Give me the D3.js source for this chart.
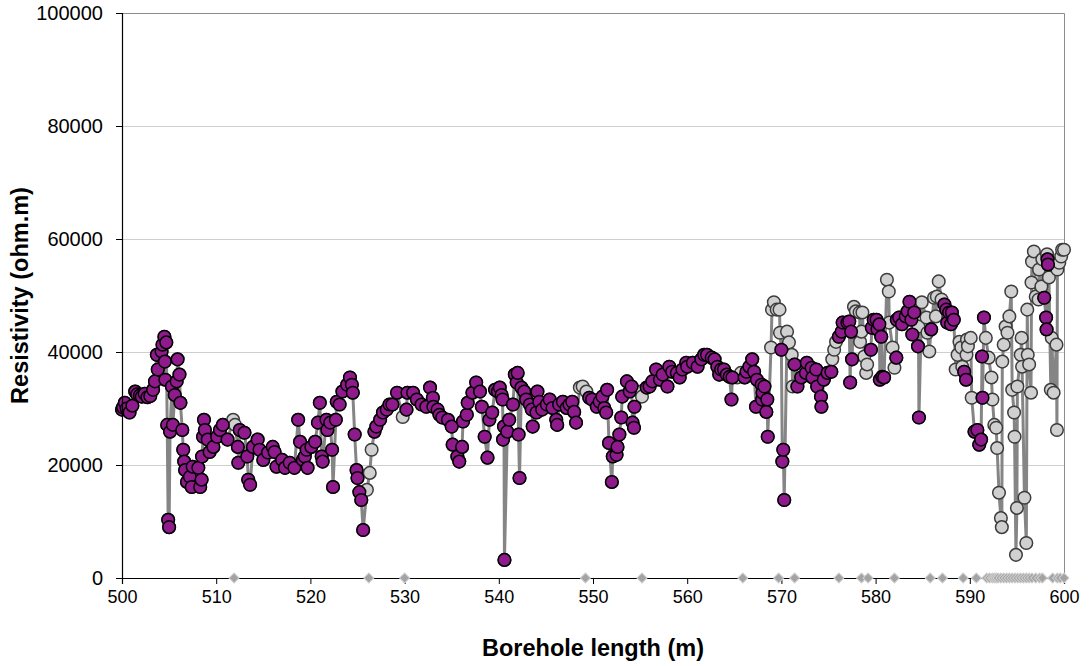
<!DOCTYPE html>
<html>
<head>
<meta charset="utf-8">
<script src="https://cdn.jsdelivr.net/npm/d3@7"></script>
<style>
  body { margin: 0; background: #fff; }
  text { font-family: "Liberation Sans", Arial, sans-serif; }
</style>
</head>
<body>
<svg id="chart" width="1089" height="666"></svg>
<script>
// Resistivity log along the borehole: [borehole length (m), resistivity (ohm.m)]
// Readings kept after quality screening
const accepted = [
  [500.0,29800],[500.1,30200],[500.3,31000],[500.5,30000],[500.8,29300],[501.1,30500],[501.4,33000],[501.6,32500],
  [501.9,32300],[502.1,32100],[502.4,32600],[502.7,32000],[503.0,32200],[503.3,33300],[503.5,34800],[503.7,39500],
  [503.8,36900],[504.2,40100],[504.3,41300],[504.5,42700],[504.55,38300],[504.6,35100],[504.7,41700],[504.8,27100],
  [504.9,10300],[505.0,9000],[505.1,25900],[505.3,33900],[505.4,27100],[505.6,32400],[505.8,34800],[505.9,38700],
  [506.1,36000],[506.2,31000],[506.4,26200],[506.5,22700],[506.6,20600],[506.7,19100],[506.9,17000],[507.2,17900],
  [507.4,16100],[507.5,19700],[508.1,19500],[508.3,16100],[508.45,17400],[508.5,21500],[508.6,25000],[508.7,28000],
  [508.8,26200],[509.1,24500],[509.3,22300],[509.7,23200],[510.1,25000],[510.4,26200],[510.7,27100],[511.2,24500],
  [512.3,23200],[512.35,20400],[512.5,26200],[513.0,25700],[513.3,21500],[513.4,17400],[513.6,16500],[513.9,23200],
  [514.4,24500],[514.6,22700],[515.0,20900],[515.5,22200],[516.0,23200],[516.2,22300],[516.4,19700],[517.0,20900],
  [517.3,19500],[517.8,20400],[518.3,19500],[518.7,28000],[518.9,24100],[519.2,20900],[519.4,21500],[519.6,22700],
  [519.7,19500],[520.1,23200],[520.5,24100],[520.8,27500],[521.0,31000],[521.2,21500],[521.3,20600],[521.7,28000],
  [521.8,26200],[522.1,27500],[522.3,22700],[522.4,16100],[522.7,28000],[522.8,31200],[523.1,30700],[523.4,33000],
  [523.9,34200],[524.2,35500],[524.4,34200],[524.5,32800],[524.7,25400],[524.9,19100],[525.0,17700],[525.2,15200],
  [525.4,13800],[525.6,8500],
  [526.8,25900],[527.0,26800],[527.4,28000],[527.7,29300],[528.1,29800],[528.4,30700],[528.7,30700],[529.2,32800],
  [530.2,29800],[530.3,32800],[530.9,32800],[531.3,31600],[531.8,30700],[532.3,30300],[532.7,33700],[533.0,31900],
  [533.05,30300],[533.5,29800],[533.7,28900],[534.0,28400],[534.6,28000],[535.0,26800],[535.1,23600],[535.6,21500],
  [535.8,20600],[536.1,23200],[536.2,27700],[536.6,28900],[536.7,31000],[537.2,32800],[537.6,34600],[538.0,33000],
  [538.2,30300],[538.5,25000],[538.8,21300],[539.0,28000],[539.3,29300],[539.6,33300],[539.9,33000],[540.1,33700],
  [540.3,32400],[540.4,31600],[540.45,24500],[540.55,26800],[540.6,3200],[540.9,25900],[541.1,28000],[541.5,30700],
  [541.7,36000],[541.9,34600],[542.0,36300],[542.1,25400],[542.2,17700],[542.4,33700],[542.7,33000],[542.9,31600],
  [543.3,30700],[543.5,29800],[543.6,26800],[544.0,29300],[544.1,33000],[544.3,31200],[544.6,29800],[545.1,30700],
  [545.4,31600],[545.7,30100],[546.1,28000],[546.2,27100],[546.4,30700],[546.8,31200],[547.2,30100],[547.5,30700],
  [547.8,31200],[548.0,29400],[548.2,27500],
  [549.6,31900],[549.9,31600],[550.4,30300],[550.7,31200],[551.0,32100],[551.2,30100],[551.4,29300],[551.5,33300],
  [551.7,23900],[552.0,17000],[552.1,21500],[552.5,21800],[552.6,23200],[552.8,25400],[553.0,28400],[553.1,32100],
  [553.6,34800],[553.9,33000],[554.1,33900],[554.2,27500],[554.35,26600],[554.4,30300],
  [555.7,33700],[556.0,33900],[556.3,34800],[556.7,36900],[557.1,35100],[557.4,36000],[557.9,33900],[558.1,37400],
  [558.4,36500],[558.9,36300],[559.2,35500],[559.5,36900],[559.9,38100],[560.0,37400],[560.6,38100],[561.1,37400],
  [561.5,38700],[561.8,39500],[562.1,39500],[562.6,39000],[562.9,38700],[563.2,37400],[563.4,36000],[563.6,36900],
  [563.9,36900],[564.2,36000],[564.5,35600],[564.7,31600],[564.8,35500],
  [566.1,35500],[566.3,36500],[566.6,37400],[566.9,38700],[567.1,36500],[567.3,30300],[567.4,35100],[567.9,34200],
  [567.95,31600],[568.0,32800],[568.2,33900],[568.4,29400],[568.5,31600],[568.55,25000],
  [570.0,40400],[570.1,20600],[570.2,22700],[570.3,13800],
  [571.4,37800],[571.7,33900],[572.1,35500],[572.6,36300],[572.7,38100],[573.2,37200],[573.3,35500],[573.7,36900],
  [573.8,33900],[574.2,32100],[574.25,30300],[574.5,35100],[574.9,36300],[575.3,36500],
  [576.1,42700],[576.4,43600],[576.5,45200],[577.0,45200],[577.2,45400],[577.3,34600],[577.4,43600],[577.5,38700],
  [579.5,40400],[579.6,44300],[579.8,45700],[580.1,45700],[580.2,44000],[580.4,44900],[580.45,35100],[580.6,42700],
  [580.7,35600],[580.9,35500],
  [582.2,39000],[582.25,45700],[582.5,46100],[582.8,44900],[583.2,46300],[583.4,47200],[583.6,48900],[583.8,45700],
  [583.9,43100],[584.1,47000],[584.5,41000],[584.6,28400],[585.9,44000],
  [587.3,48400],[587.5,47500],[587.6,45200],[587.8,47000],[588.0,44900],[588.1,47000],[588.3,45700],
  [589.4,36500],[589.6,35100],
  [590.5,25900],[590.8,26200],[591.0,23600],[591.2,24500],[591.3,39200],[591.35,31900],[591.5,46100],
  [597.9,49600],[598.1,46100],[598.15,44000],[598.25,56400],[598.3,55500]
];

// Readings rejected by the screening
const rejected = [
  [511.8,28000],[512.0,27100],
  [526.0,15600],[526.3,18600],[526.5,22700],
  [529.8,28500],
  [548.6,33700],[548.9,33900],[549.3,33000],
  [555.1,33000],[555.2,32100],
  [565.3,35500],[565.7,36300],
  [568.9,40800],[569.0,47500],[569.2,48800],[569.5,47500],[569.8,47500],[569.85,43400],
  [570.6,43600],[570.8,41700],[571.1,39500],[571.2,33900],
  [575.4,38700],[575.6,40400],[575.8,41800],
  [577.7,48000],[577.9,47200],[578.3,47000],[578.35,41800],[578.5,43600],[578.6,47000],[578.8,39200],[579.0,36300],[579.1,37800],
  [581.2,52800],[581.4,50700],[581.45,45200],[581.8,40800],[582.0,37200],
  [584.55,44500],
  [584.9,48800],[585.4,46100],[585.5,43400],[585.7,40100],
  [586.2,49600],[586.4,46300],[586.5,49800],[586.7,52500],[587.0,49300],
  [588.5,36900],[588.7,39500],[588.9,41800],[589.1,40800],[589.2,37400],
  [589.65,39500],[589.7,42200],[589.8,41000],[590.1,42500],[590.2,31900],
  [591.7,42500],[592.0,39000],[592.3,35500],[592.4,31600],[592.6,27100],[592.8,26600],[592.9,23000],[593.1,15100],
  [593.3,10600],[593.4,9000],[593.45,38300],[593.6,41300],[593.8,44500],[594.0,43400],[594.2,46300],[594.4,50700],
  [594.5,33300],[594.7,29300],[594.75,25000],[594.9,4100],[595.0,12400],[595.05,33900],[595.4,39500],[595.5,42500],
  [595.55,37400],[595.8,14200],[596.0,6200],[596.1,47500],[596.15,39500],[596.3,37800],[596.5,32800],[596.55,52300],
  [596.6,56000],[596.8,57800],[597.0,49800],[597.3,49300],[597.35,54600],[597.6,51600],[597.7,56400],
  [598.2,57300],
  [598.4,53200],[598.6,33300],[598.7,42500],[598.9,32800],[599.2,41300],[599.25,26200],[599.3,54600],[599.5,55800],
  [599.7,56900],[599.8,58100],[600.0,58100]
];

// Depths flagged at zero by the screening
const zeroFlags = [
  511.9, 526.2, 530.0, 549.2, 555.2, 565.9, 569.7, 571.4, 576.1, 578.5, 579.2, 582.0, 585.8, 587.1,
  589.3, 590.7, 591.8, 592.1, 592.4, 592.6, 592.8, 593.0, 593.3, 593.6, 593.9, 594.2, 594.5, 594.8,
  595.1, 595.4, 595.7, 596.0, 596.3, 596.6, 597.0, 597.4, 597.7, 598.8, 599.3, 599.6, 600.0
];

const xTicks = [500, 510, 520, 530, 540, 550, 560, 570, 580, 590, 600];
const yTicks = [0, 20000, 40000, 60000, 80000, 100000];

const xTitle = "Borehole length (m)";
const yTitle = "Resistivity (ohm.m)";

// ---- layout ----
const W = 1089, H = 666;
const plot = { left: 122, right: 1064, top: 13, bottom: 578 };
const markerR = 6.3;

const svg = d3.select("#chart");
svg.append("rect").attr("width", W).attr("height", H).attr("fill", "#fff");

const x = d3.scaleLinear().domain([500, 600]).range([plot.left, plot.right]);
const y = d3.scaleLinear().domain([0, 100000]).range([plot.bottom, plot.top]);

// gridlines
svg.append("g")
  .selectAll("line")
  .data(yTicks.filter(v => v > 0 && v < 100000))
  .join("line")
  .attr("x1", plot.left).attr("x2", plot.right)
  .attr("y1", d => Math.round(y(d)) + 0.5).attr("y2", d => Math.round(y(d)) + 0.5)
  .attr("stroke", "#cfcfcf").attr("stroke-width", 1);

// plot frame (top and right)
svg.append("path")
  .attr("d", `M${plot.left},${plot.top + 0.5}H${plot.right + 0.5}V${plot.bottom}`)
  .attr("fill", "none").attr("stroke", "#8c8c8c").attr("stroke-width", 1);

// all readings in depth order
const allPoints = d3.sort(accepted.concat(rejected), d => d[0]);

const data = svg.append("g");

const line = d3.line().x(d => x(d[0])).y(d => y(d[1]));
data.append("path")
  .datum(allPoints)
  .attr("d", line)
  .attr("fill", "none")
  .attr("stroke", "#858585")
  .attr("stroke-width", 3)
  .attr("stroke-linejoin", "round");

data.append("g")
  .selectAll("circle")
  .data(allPoints)
  .join("circle")
  .attr("cx", d => x(d[0])).attr("cy", d => y(d[1])).attr("r", markerR)
  .attr("fill", "#d0d0d0").attr("stroke", "#3c3c3c").attr("stroke-width", 1.5);

data.append("g")
  .selectAll("circle")
  .data(accepted)
  .join("circle")
  .attr("cx", d => x(d[0])).attr("cy", d => y(d[1])).attr("r", markerR)
  .attr("fill", "#8e1a8b").attr("stroke", "#000").attr("stroke-width", 1.5);

// axes
const xAxis = d3.axisBottom(x).tickValues(xTicks).tickSize(6).tickPadding(6).tickFormat(d3.format("d"));
const yAxis = d3.axisLeft(y).tickValues(yTicks).tickSize(6).tickPadding(13).tickFormat(d3.format("d"));

const gx = svg.append("g").attr("transform", `translate(0,${plot.bottom})`).call(xAxis);
const gy = svg.append("g").attr("transform", `translate(${plot.left},0)`).call(yAxis);

[gx, gy].forEach(g => {
  g.select(".domain").attr("stroke", "#000").attr("stroke-width", 1.2);
  g.selectAll(".tick line").attr("stroke", "#000").attr("stroke-width", 1);
  g.selectAll(".tick text")
    .attr("fill", "#000")
    .style("font-family", '"Liberation Sans", Arial, sans-serif');
});
gx.selectAll(".tick text").style("font-size", "18px");
gy.selectAll(".tick text").style("font-size", "20px");

// zero flags sit on the x axis
const diamond = d3.symbol().type(d3.symbolSquare).size(50);
svg.append("g")
  .selectAll("path")
  .data(zeroFlags)
  .join("path")
  .attr("d", diamond)
  .attr("transform", d => `translate(${x(d)},${y(0)}) rotate(45)`)
  .attr("fill", "#a3a3a3").attr("stroke", "#cfcfcf").attr("stroke-width", 1);

// axis titles
svg.append("text")
  .attr("x", (plot.left + plot.right) / 2).attr("y", 656)
  .attr("text-anchor", "middle")
  .style("font-size", "23.5px").style("font-weight", "bold")
  .text(xTitle);

svg.append("text")
  .attr("transform", `translate(28,${(plot.top + plot.bottom) / 2}) rotate(-90)`)
  .attr("text-anchor", "middle")
  .style("font-size", "23.5px").style("font-weight", "bold")
  .text(yTitle);
</script>
</body>
</html>
